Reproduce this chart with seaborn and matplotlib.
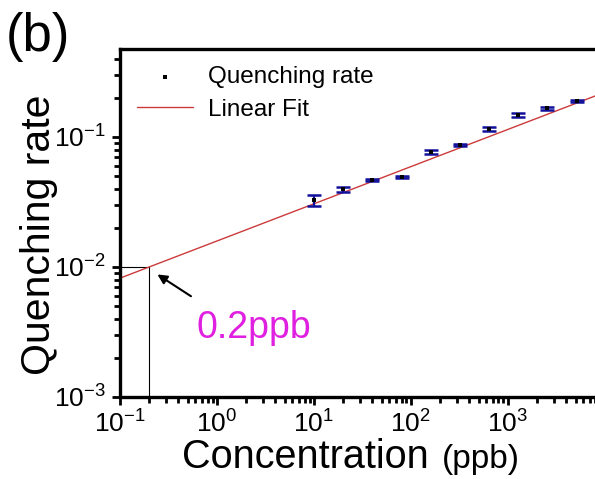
import matplotlib
matplotlib.use("Agg")
import matplotlib.pyplot as plt
import seaborn as sns
import numpy as np
import pandas as pd

# data
concentration = [10, 20, 40, 80, 160, 320, 640, 1280, 2560, 5120]  # ppb
quench_rate = [0.0325, 0.0395, 0.0467, 0.0492, 0.0767, 0.0868, 0.115, 0.148, 0.167, 0.189]
quench_err = [0.0033, 0.0018, 0.0012, 0.0012, 0.0030, 0.0020, 0.0040, 0.0045, 0.0045, 0.0035]

# linear fit in log-log space: log10(y) = fit_intercept + fit_slope * log10(x)
fit_slope = 0.286
fit_intercept = -1.80
lod_x = 0.2   # detection limit, ppb
lod_y = 0.01

xlim = (0.1, 10 ** 3.95)
ylim = (1e-3, 0.475)

df = pd.DataFrame({"conc": concentration, "rate": quench_rate, "err": quench_err})
fit_x = np.logspace(np.log10(xlim[0]), np.log10(xlim[1]), 200)
fit_df = pd.DataFrame({"conc": fit_x, "rate": 10 ** (fit_intercept + fit_slope * np.log10(fit_x))})

sns.set_theme(style="ticks")
plt.rcParams["font.family"] = ["Liberation Sans", "DejaVu Sans"]
plt.rcParams["mathtext.fontset"] = "custom"
plt.rcParams["mathtext.rm"] = "Liberation Sans"
plt.rcParams["mathtext.it"] = "Liberation Sans:italic"
plt.rcParams["axes.unicode_minus"] = False
for k in ["text.color", "axes.labelcolor", "axes.edgecolor", "xtick.color", "ytick.color"]:
    plt.rcParams[k] = "black"

fig = plt.figure(figsize=(5.95, 4.79), dpi=100)
ax = fig.add_axes([120 / 595, 82 / 479, 480 / 595, 348 / 479])

sns.lineplot(data=fit_df, x="conc", y="rate", ax=ax, color="#cc3a3a", lw=1.0,
             label="Linear Fit", zorder=2)
ax.errorbar(df["conc"], df["rate"], yerr=df["err"], fmt="none", ecolor="#10109a",
            elinewidth=1.6, capsize=5, capthick=1.8, zorder=3)
sns.scatterplot(data=df, x="conc", y="rate", ax=ax, marker="s", s=12, color="black",
                edgecolor="black", linewidth=0, label="Quenching rate", zorder=4)

# guide lines to the detection limit
ax.plot([xlim[0], lod_x], [lod_y, lod_y], color="black", lw=0.8, zorder=1)
ax.plot([lod_x, lod_x], [ylim[0], lod_y], color="black", lw=0.8, zorder=1)

ax.set_xscale("log")
ax.set_yscale("log")
ax.set_xlim(*xlim)
ax.set_ylim(*ylim)
ax.set_xticks([0.1, 1, 10, 100, 1000])
ax.set_yticks([1e-3, 1e-2, 1e-1])

for s in ["left", "bottom", "top"]:
    ax.spines[s].set_linewidth(2.4)
ax.spines["right"].set_visible(False)
ax.tick_params(which="major", direction="out", length=6, width=2, labelsize=19, pad=4)
ax.tick_params(which="minor", direction="out", length=4, width=2)
ax.tick_params(axis="x", which="both", top=False)

ax.set_xlabel("")
ax.set_ylabel("")

fig.text(20 / 595, 244 / 479, "Quenching rate", fontsize=29.5, rotation=90,
         ha="left", va="center")
fig.text(182 / 595, 11 / 479, "Concentration", fontsize=28.5, ha="left", va="baseline")
fig.text(442 / 595, 11 / 479, "(ppb)", fontsize=24, ha="left", va="baseline")
fig.text(6 / 595, 428 / 479, "(b)", fontsize=38, ha="left", va="baseline")

ax.annotate("", xy=(0.23, 0.009), xytext=(0.57, 0.0058),
            arrowprops=dict(arrowstyle="-|>", color="black", lw=1.5, mutation_scale=14))
ax.text(0.62, 0.00284, "0.2ppb", color="#e020e0", fontsize=27, ha="left", va="baseline")

# legend: put marker first like the reference
handles, labels = ax.get_legend_handles_labels()
order = [labels.index("Quenching rate"), labels.index("Linear Fit")]
ax.legend([handles[i] for i in order], [labels[i] for i in order], loc="upper left",
          frameon=False, fontsize=17.5, handlelength=2.3, borderaxespad=0.3,
          labelspacing=0.45, handletextpad=0.6)

fig.savefig("out.png", dpi=100)
